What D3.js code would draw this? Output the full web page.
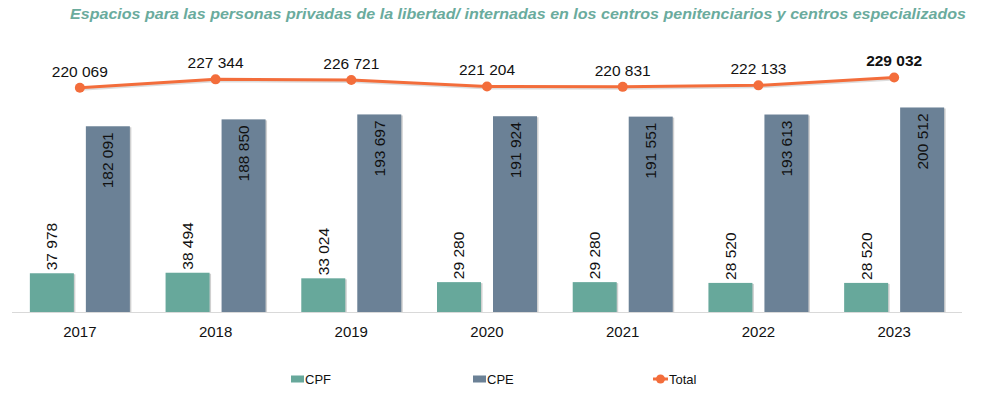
<!DOCTYPE html>
<html lang="es">

<head>
    <meta charset="UTF-8">
    <title>Espacios CPF / CPE</title>
    <style>
        body {
            padding: 0;
            margin: 0;
            background: #fff;
        }

        text {
            font-family: "Liberation Sans", Arial, sans-serif;
        }
    </style>
</head>

<body>
    <script src="https://cdn.jsdelivr.net/npm/d3@7/dist/d3.min.js"></script>
    <script>
        // datos
        const years = ['2017', '2018', '2019', '2020', '2021', '2022', '2023']
        const cpf = [37978, 38494, 33024, 29280, 29280, 28520, 28520]
        const cpe = [182091, 188850, 193697, 191924, 191551, 193613, 200512]
        const total = [220069, 227344, 226721, 221204, 220831, 222133, 229032]
        const seriesNames = ['CPF', 'CPE', 'Total']
        const title = 'Espacios para las personas privadas de la libertad/ internadas en los centros penitenciarios y centros especializados'

        const colors = { CPF: '#67a89b', CPE: '#6b8196', Total: '#f36d3b' }

        const width = 989
        const height = 395
        const fmt = v => d3.format(',')(v).replace(/,/g, ' ')

        const svg = d3.select('body')
            .append('svg')
            .attr('width', width)
            .attr('height', height)

        // titulo
        svg.append('text')
            .attr('x', 70)
            .attr('y', 19)
            .attr('textLength', 896)
            .attr('lengthAdjust', 'spacingAndGlyphs')
            .attr('font-size', 15)
            .attr('font-weight', 'bold')
            .attr('font-style', 'italic')
            .attr('fill', '#6aab9d')
            .text(title)

        // escalas
        const x0 = d3.scaleBand().domain(years).range([12, 962])
        const x1 = d3.scaleBand().domain(['CPF', 'CPE']).range([-50, 50]).paddingInner(0.2143)
        const y = d3.scaleLinear().domain([0, 250000]).range([312, 57])
        const y2 = d3.scaleLinear().domain([200000, 240000]).range([110.8, 64.8])

        const rows = years.map((yr, i) => ({ year: yr, CPF: cpf[i], CPE: cpe[i], Total: total[i] }))

        // barras
        const groups = svg.append('g')
            .selectAll('g')
            .data(rows)
            .join('g')
            .attr('transform', d => `translate(${x0(d.year) + x0.bandwidth() / 2},0)`)

        ;['CPF', 'CPE'].forEach(k => {
            // sombra
            groups.append('rect')
                .attr('x', x1(k) + 1.5)
                .attr('y', d => y(d[k]) + 1)
                .attr('width', x1.bandwidth())
                .attr('height', d => y(0) - y(d[k]) - 1)
                .attr('fill', '#d0d0d0')
            groups.append('rect')
                .attr('x', x1(k))
                .attr('y', d => y(d[k]))
                .attr('width', x1.bandwidth())
                .attr('height', d => y(0) - y(d[k]))
                .attr('fill', colors[k])
        })

        // etiquetas CPF (encima de la barra)
        groups.append('text')
            .attr('transform', d => `translate(${x1('CPF') + x1.bandwidth() / 2 + 5.5},${y(d.CPF) - 3}) rotate(-90)`)
            .attr('text-anchor', 'start')
            .attr('font-size', 15.5)
            .attr('fill', '#111')
            .text(d => fmt(d.CPF))

        // etiquetas CPE (dentro de la barra)
        groups.append('text')
            .attr('transform', d => `translate(${x1('CPE') + x1.bandwidth() / 2 + 5.5},${y(d.CPE) + 6}) rotate(-90)`)
            .attr('text-anchor', 'end')
            .attr('font-size', 15.5)
            .attr('fill', '#111')
            .text(d => fmt(d.CPE))

        // eje
        svg.append('line')
            .attr('x1', 12)
            .attr('x2', 962)
            .attr('y1', y(0) + 0.5)
            .attr('y2', y(0) + 0.5)
            .attr('stroke', '#d9d9d9')
            .attr('stroke-width', 1.2)

        svg.append('g')
            .selectAll('text')
            .data(years)
            .join('text')
            .attr('x', d => x0(d) + x0.bandwidth() / 2)
            .attr('y', 337)
            .attr('text-anchor', 'middle')
            .attr('font-size', 15)
            .attr('fill', '#111')
            .text(d => d)

        // linea total
        const line = d3.line()
            .x(d => x0(d.year) + x0.bandwidth() / 2)
            .y(d => y2(d.Total))

        svg.append('path')
            .datum(rows)
            .attr('d', line)
            .attr('transform', 'translate(1,1.5)')
            .attr('fill', 'none')
            .attr('stroke', '#ddd')
            .attr('stroke-width', 3)

        svg.append('path')
            .datum(rows)
            .attr('d', line)
            .attr('fill', 'none')
            .attr('stroke', colors.Total)
            .attr('stroke-width', 3)

        svg.append('g')
            .selectAll('circle')
            .data(rows)
            .join('circle')
            .attr('cx', d => x0(d.year) + x0.bandwidth() / 2)
            .attr('cy', d => y2(d.Total))
            .attr('r', 5)
            .attr('fill', colors.Total)

        svg.append('g')
            .selectAll('text')
            .data(rows)
            .join('text')
            .attr('x', d => x0(d.year) + x0.bandwidth() / 2)
            .attr('y', d => y2(d.Total) - 11)
            .attr('text-anchor', 'middle')
            .attr('font-size', 15.5)
            .attr('font-weight', (d, i) => i === rows.length - 1 ? 'bold' : 'normal')
            .attr('fill', '#111')
            .text(d => fmt(d.Total))

        // leyenda
        const legendX = [291, 473, 653]
        const legend = svg.append('g')
            .selectAll('g')
            .data(seriesNames)
            .join('g')
            .attr('transform', (d, i) => `translate(${legendX[i]},379)`)

        legend.each(function (d) {
            const g = d3.select(this)
            if (d === 'Total') {
                g.append('line')
                    .attr('x1', 0).attr('x2', 15)
                    .attr('stroke', colors.Total)
                    .attr('stroke-width', 3)
                g.append('circle')
                    .attr('cx', 7.5)
                    .attr('r', 4.5)
                    .attr('fill', colors.Total)
            } else {
                g.append('rect')
                    .attr('x', 0).attr('y', -3.5)
                    .attr('width', 13).attr('height', 7)
                    .attr('fill', colors[d])
            }
            g.append('text')
                .attr('x', d === 'Total' ? 16 : 14)
                .attr('y', 4.5)
                .attr('font-size', 13)
                .attr('fill', '#111')
                .text(d)
        })
    </script>
</body>

</html>
